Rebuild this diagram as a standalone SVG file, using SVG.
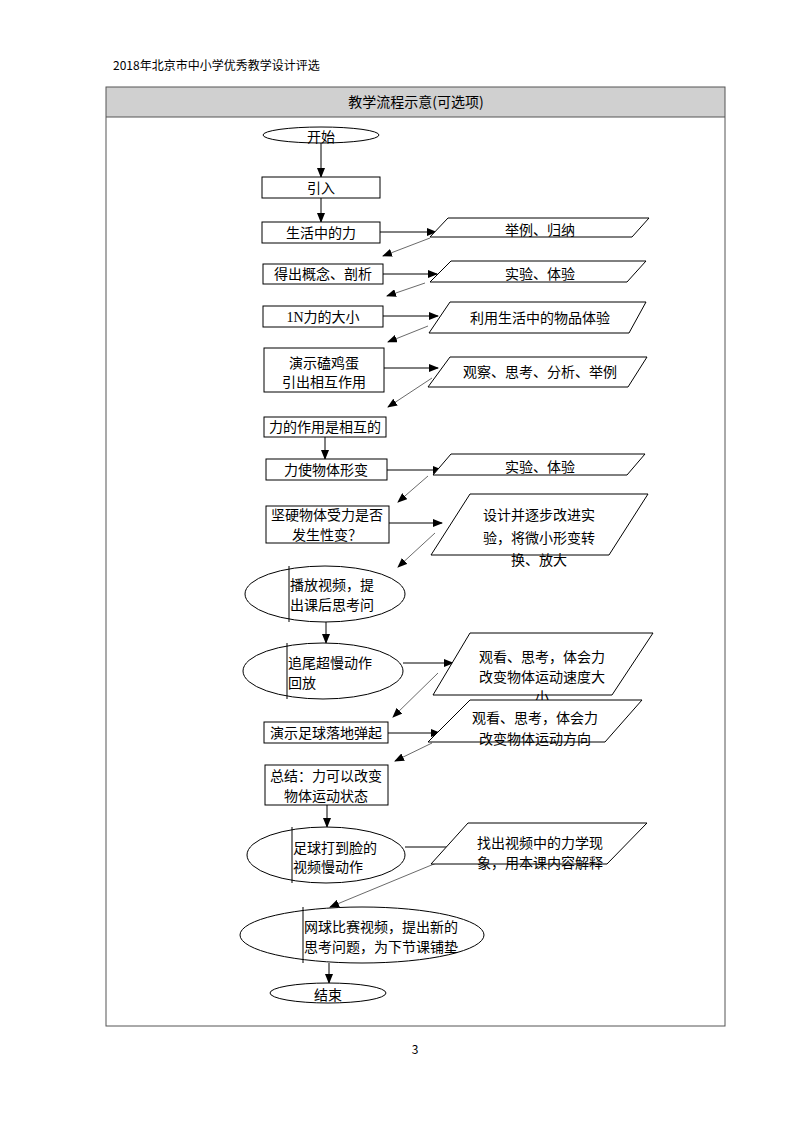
<svg xmlns="http://www.w3.org/2000/svg" width="794" height="1123" viewBox="0 0 794 1123">
<defs>
<style>
text{font-family:"Noto Sans CJK SC","Liberation Sans",sans-serif;font-size:14px;fill:#000}
.c{text-anchor:middle}
.box{fill:#fff;stroke:#000;stroke-width:1}
.ln{fill:none;stroke:#000;stroke-width:1}
.rt{fill:none;stroke:#444;stroke-width:0.8}
.small{font-size:12px}
</style>
<marker id="ah" markerWidth="10" markerHeight="8" refX="9" refY="4" orient="auto" markerUnits="userSpaceOnUse">
<path d="M0,0 L10,4 L0,8 Z" fill="#000"/>
</marker>
</defs>
<rect width="794" height="1123" fill="#fff"/>
<text x="113" y="70" class="small">2018年北京市中小学优秀教学设计评选</text>
<g id="table">
<rect x="106" y="87" width="619" height="30" fill="#d0d0d0" stroke="none"/>
<rect x="106" y="87" width="619" height="939" fill="none" stroke="#555" stroke-width="1"/>
<line x1="106" y1="117" x2="725" y2="117" stroke="#555" stroke-width="1"/>
<text x="416" y="107" class="c">教学流程示意(可选项)</text>
</g>
<g id="connectors">
<line class="ln" x1="321" y1="143" x2="321" y2="177" marker-end="url(#ah)"/>
<line class="ln" x1="321" y1="198" x2="321" y2="222" marker-end="url(#ah)"/>
<line class="ln" x1="325" y1="437" x2="325" y2="459" marker-end="url(#ah)"/>
<line class="ln" x1="326" y1="622" x2="326" y2="643" marker-end="url(#ah)"/>
<line class="ln" x1="327" y1="805" x2="327" y2="827" marker-end="url(#ah)"/>
<line class="ln" x1="329" y1="963" x2="329" y2="983" marker-end="url(#ah)"/>
<line class="ln" x1="380" y1="232" x2="436" y2="232" marker-end="url(#ah)"/>
<line class="ln" x1="383" y1="274" x2="437" y2="274" marker-end="url(#ah)"/>
<line class="ln" x1="383" y1="316" x2="438" y2="316" marker-end="url(#ah)"/>
<line class="ln" x1="384" y1="368" x2="438" y2="368" marker-end="url(#ah)"/>
<line class="ln" x1="387" y1="470" x2="442" y2="470" marker-end="url(#ah)"/>
<line class="ln" x1="389" y1="523" x2="442" y2="523" marker-end="url(#ah)"/>
<line class="ln" x1="403" y1="663" x2="453" y2="663" marker-end="url(#ah)"/>
<line class="ln" x1="388" y1="733" x2="440" y2="733" marker-end="url(#ah)"/>
<line class="ln" x1="405" y1="847" x2="460" y2="847" marker-end="url(#ah)"/>
<line class="rt" x1="430" y1="238" x2="383" y2="256" marker-end="url(#ah)"/>
<line class="rt" x1="425" y1="283" x2="387" y2="296" marker-end="url(#ah)"/>
<line class="rt" x1="428" y1="326" x2="388" y2="342" marker-end="url(#ah)"/>
<line class="rt" x1="432" y1="378" x2="388" y2="407" marker-end="url(#ah)"/>
<line class="rt" x1="428" y1="476" x2="398" y2="502" marker-end="url(#ah)"/>
<line class="rt" x1="435" y1="533" x2="398" y2="567" marker-end="url(#ah)"/>
<line class="rt" x1="438" y1="673" x2="393" y2="717" marker-end="url(#ah)"/>
<line class="rt" x1="432" y1="743" x2="395" y2="761" marker-end="url(#ah)"/>
<line class="rt" x1="463" y1="852" x2="330" y2="907" marker-end="url(#ah)"/>
</g>
<g id="start">
<ellipse class="box" cx="321" cy="135" rx="58" ry="8"/>
<text x="321" y="142" class="c">开始</text>
</g>
<g id="n1"><rect class="box" x="262" y="177" width="118" height="21"/><text x="321" y="193" class="c">引入</text></g>
<g id="n2"><rect class="box" x="262" y="222" width="118" height="21"/><text x="321" y="238" class="c">生活中的力</text></g>
<g id="p1"><polygon class="box" points="448,218 649,218 632,237 430,237"/><text x="540" y="235" class="c">举例、归纳</text></g>
<g id="n3"><rect class="box" x="263" y="264" width="120" height="20"/><text x="323" y="279" class="c">得出概念、剖析</text></g>
<g id="p2"><polygon class="box" points="451,261 646,261 627,282 430,282"/><text x="540" y="279" class="c">实验、体验</text></g>
<g id="n4"><rect class="box" x="263" y="306" width="120" height="21"/><text x="323" y="322" class="c"><tspan font-family="Liberation Serif">1N</tspan>力的大小</text></g>
<g id="p3"><polygon class="box" points="450,302 646,302 629,333 429,333"/><text x="540" y="323" class="c">利用生活中的物品体验</text></g>
<g id="n5"><rect class="box" x="264" y="348" width="120" height="44"/><text x="324" y="368" class="c">演示磕鸡蛋</text><text x="324" y="387" class="c">引出相互作用</text></g>
<g id="p4"><polygon class="box" points="450,357 647,357 628,387 428,387"/><text x="540" y="377" class="c">观察、思考、分析、举例</text></g>
<g id="n6"><rect class="box" x="264" y="417" width="122" height="20"/><text x="325" y="432" class="c">力的作用是相互的</text></g>
<g id="n7"><rect class="box" x="266" y="459" width="121" height="21"/><text x="326" y="475" class="c">力使物体形变</text></g>
<g id="p5"><polygon class="box" points="451,454 645,454 627,475 433,475"/><text x="540" y="472" class="c">实验、体验</text></g>
<g id="n8"><rect class="box" x="266" y="506" width="123" height="37"/><text x="327" y="520" class="c">坚硬物体受力是否</text><text x="327" y="540" class="c">发生性变？</text></g>
<g id="p6"><polygon class="box" points="470,494 648,494 609,555 431,555"/><text x="539" y="520" class="c">设计并逐步改进实</text><text x="539" y="543" class="c">验，将微小形变转</text><text x="539" y="565" class="c">换、放大</text></g>
<g id="n9"><ellipse class="box" cx="325" cy="594" rx="80" ry="28"/><line class="ln" x1="289" y1="566" x2="289" y2="622"/><text x="290" y="590">播放视频，提</text><text x="290" y="610">出课后思考问</text></g>
<g id="n10"><ellipse class="box" cx="323" cy="671" rx="80" ry="28"/><line class="ln" x1="287" y1="643" x2="287" y2="699"/><text x="288" y="668">追尾超慢动作</text><text x="288" y="688">回放</text></g>
<g id="p7"><polygon class="box" points="470,633 653,633 612,695 433,695"/><text x="542" y="662" class="c">观看、思考，体会力</text><text x="542" y="682" class="c">改变物体运动速度大</text><text x="542" y="702" class="c">小</text></g>
<g id="n11"><rect class="box" x="264" y="722" width="124" height="21"/><text x="326" y="738" class="c">演示足球落地弹起</text></g>
<g id="p8"><polygon class="box" points="470,700 642,700 605,742 428,742"/><text x="535" y="723" class="c">观看、思考，体会力</text><text x="535" y="744" class="c">改变物体运动方向</text></g>
<g id="n12"><rect class="box" x="265" y="765" width="123" height="40"/><text x="326" y="781" class="c">总结：力可以改变</text><text x="326" y="801" class="c">物体运动状态</text></g>
<g id="n13"><ellipse class="box" cx="326" cy="855" rx="79" ry="28"/><line class="ln" x1="292" y1="827" x2="292" y2="883"/><text x="293" y="853">足球打到脸的</text><text x="293" y="872">视频慢动作</text></g>
<g id="p9"><polygon class="box" points="468,823 647,823 607,864 431,864"/><text x="477" y="848">找出视频中的力学现</text><text x="477" y="868">象，用本课内容解释</text></g>
<g id="n14"><ellipse class="box" cx="362" cy="935" rx="122" ry="28"/><line class="ln" x1="303" y1="907" x2="303" y2="963"/><text x="304" y="932">网球比赛视频，提出新的</text><text x="304" y="952">思考问题，为下节课铺垫</text></g>
<g id="end"><ellipse class="box" cx="328" cy="993" rx="58" ry="10"/><text x="328" y="1000" class="c">结束</text></g>
<text x="415" y="1054" class="small c">3</text>
</svg>
